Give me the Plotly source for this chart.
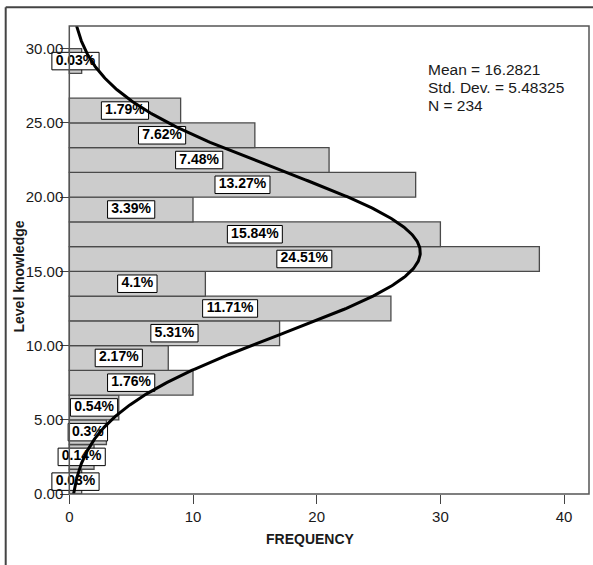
import numpy as np
import plotly.graph_objects as go

# ---------------- data ----------------
bin_width = 5 / 3
counts = [1, 2, 3, 4, 10, 8, 17, 26, 11, 38, 30, 10, 28, 21, 15, 9, 0, 1]
pct_labels = ["0.03%", "0.14%", "0.3%", "0.54%", "1.76%", "2.17%", "5.31%", "11.71%",
              "4.1%", "24.51%", "15.84%", "3.39%", "13.27%", "7.48%", "7.62%", "1.79%",
              "", "0.03%"]
mean_val = 16.2821
sd_val = 5.48325
n_val = 234
stats_lines = ["Mean = 16.2821", "Std. Dev. = 5.48325", "N = 234"]
y_ticks = [0, 5, 10, 15, 20, 25, 30]
x_ticks = [0, 10, 20, 30, 40]

# ---------------- geometry ----------------
W, H = 593, 565
ML, MR, MT, MB = 45, 4, 26, 71
PW = W - ML - MR
PH = H - MT - MB
X0PX = 24.3            # pixel offset of x=0 from plot-area left
PX_PER_X = 12.37
XMIN = -X0PX / PX_PER_X
XMAX = XMIN + PW / PX_PER_X
YMAX = 31.53
px_y = PH / YMAX
FONT = "Liberation Sans, Arial, sans-serif"
LABEL_SIZE = 14

centers = [(i + 0.5) * bin_width for i in range(len(counts))]

# bars (skip empty bins)
bar_y = [c for c, k in zip(centers, counts) if k > 0]
bar_x = [k for k in counts if k > 0]

# label boxes
char_w = {"%": 0.889, ".": 0.278}
def text_width(s, size=LABEL_SIZE):
    return size * sum(char_w.get(ch, 0.556) for ch in s)

lab_y, lab_x, lab_t, box_w, box_base = [], [], [], [], []
for c, k, t in zip(centers, counts, pct_labels):
    if not t:
        continue
    w = (text_width(t) + 7.5) / PX_PER_X
    lab_y.append(c)
    lab_x.append(k / 2)
    lab_t.append(t)
    box_w.append(w)
    box_base.append(k / 2 - w / 2)
box_h = 17.5 / px_y

# normal curve
yy = np.linspace(0, YMAX, 500)
xx = n_val * bin_width * np.exp(-0.5 * ((yy - mean_val) / sd_val) ** 2) / (sd_val * np.sqrt(2 * np.pi))

fig = go.Figure()
fig.add_trace(go.Bar(orientation="h", y=bar_y, x=bar_x, width=bin_width,
                     marker=dict(color="#cccccc", line=dict(color="#4a4a4a", width=1.3)),
                     hoverinfo="skip"))
fig.add_trace(go.Bar(orientation="h", y=lab_y, x=box_w, base=box_base, width=box_h,
                     marker=dict(color="white", line=dict(color="black", width=1)),
                     hoverinfo="skip"))
fig.add_trace(go.Scatter(mode="text", x=lab_x, y=lab_y, text=lab_t,
                         textposition="middle center", cliponaxis=False,
                         textfont=dict(family=FONT, size=LABEL_SIZE, color="black", weight="bold"),
                         hoverinfo="skip"))
fig.add_trace(go.Scatter(mode="lines", x=xx, y=yy, line=dict(color="black", width=3),
                         hoverinfo="skip"))

shapes = [
    # plot frame
    dict(type="rect", xref="paper", yref="paper", x0=X0PX / PW, x1=1, y0=0, y1=1,
         line=dict(color="#555555", width=1.5), layer="above"),
    # outer border (top & left)
    dict(type="line", xref="paper", yref="paper",
         x0=(5.7 - ML) / PW, x1=(5.7 - ML) / PW, y0=(PH + MT - H) / PH, y1=(PH + MT - 7.3) / PH,
         line=dict(color="#444444", width=2)),
    dict(type="line", xref="paper", yref="paper",
         x0=(5.7 - ML) / PW, x1=(W - ML) / PW, y0=(PH + MT - 7.3) / PH, y1=(PH + MT - 7.3) / PH,
         line=dict(color="#444444", width=2)),
]

annotations = []
for i, s in enumerate(stats_lines):
    ypx = 69.2 + i * 18.3
    annotations.append(dict(xref="paper", yref="paper", x=(426 - ML) / PW,
                            y=(PH + MT - ypx) / PH, xanchor="left", yanchor="middle",
                            text=s, showarrow=False,
                            font=dict(family=FONT, size=15.5, color="#1a1a1a")))
annotations.append(dict(xref="paper", yref="paper", x=(310 - ML) / PW,
                        y=(PH + MT - 539) / PH, xanchor="center", yanchor="middle",
                        text="<b>FREQUENCY</b>", showarrow=False,
                        font=dict(family=FONT, size=14, color="#1a1a1a")))
annotations.append(dict(xref="paper", yref="paper", x=(18 - ML) / PW,
                        y=(PH + MT - 276.5) / PH, xanchor="center", yanchor="middle",
                        text="<b>Level knowledge</b>", showarrow=False, textangle=-90,
                        font=dict(family=FONT, size=14, color="#1a1a1a")))

fig.update_layout(
    width=W, height=H,
    margin=dict(l=ML, r=MR, t=MT, b=MB, pad=0),
    paper_bgcolor="white", plot_bgcolor="white",
    barmode="overlay", showlegend=False,
    font=dict(family=FONT, size=15, color="#1a1a1a"),
    shapes=shapes, annotations=annotations,
    xaxis=dict(range=[XMIN, XMAX], showgrid=False, zeroline=False, showline=False,
               tickvals=x_ticks, ticks="outside", ticklen=9, tickwidth=1.3,
               tickcolor="#444444", tickfont=dict(family=FONT, size=15, color="#1a1a1a"),
               automargin=False, fixedrange=True),
    yaxis=dict(range=[0, YMAX], showgrid=False, zeroline=False, showline=False,
               anchor="free", position=X0PX / PW,
               tickvals=y_ticks, tickformat=".2f", ticks="outside", ticklen=9,
               tickwidth=1.3, tickcolor="#444444", ticklabelstandoff=-6,
               tickfont=dict(family=FONT, size=15, color="#1a1a1a"),
               automargin=False, fixedrange=True),
)

fig.write_html("out.html", config={"displayModeBar": False},
               post_script="document.body.style.margin='0';document.body.style.overflow='hidden';")
